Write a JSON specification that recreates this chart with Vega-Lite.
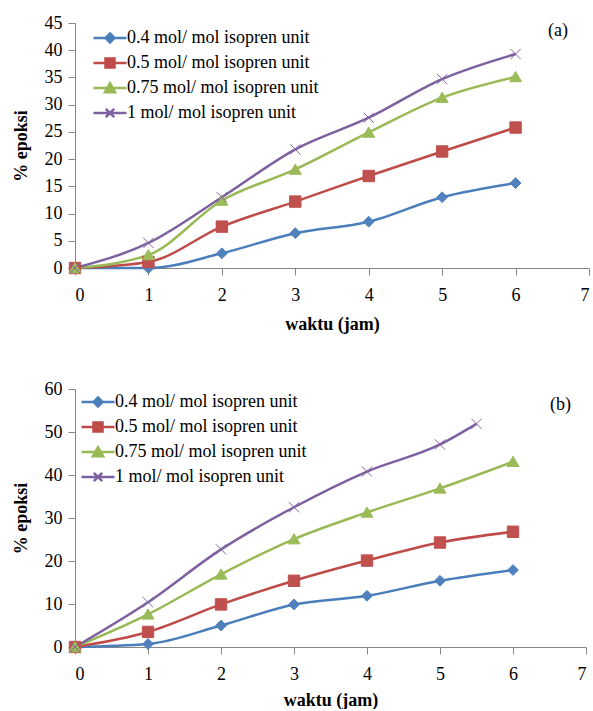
{
  "$schema": "https://vega.github.io/schema/vega-lite/v6.json",
  "background": "white",
  "padding": {"left": 12, "top": 14, "right": 0, "bottom": 0},
  "spacing": 47,
  "config": {
    "view": {"stroke": null},
    "font": "Liberation Serif",
    "axis": {
      "grid": false,
      "labelFont": "Liberation Serif",
      "labelFontSize": 18,
      "labelColor": "black",
      "titleFont": "Liberation Serif",
      "titleFontSize": 18,
      "titleFontWeight": "bold",
      "titleColor": "black",
      "domainColor": "#868686",
      "tickColor": "#868686",
      "domainWidth": 1,
      "tickSize": 7
    },
    "axisX": {"labelPadding": 11, "titlePadding": 11},
    "axisY": {"labelPadding": 6, "titlePadding": 14},
    "legend": {"labelFont": "Liberation Serif"},
    "title": {"font": "Liberation Serif"}
  },
  "datasets": {
    "a": [
      {"s": "0.4 mol/ mol isopren unit", "t": 0, "v": 0},
      {"s": "0.4 mol/ mol isopren unit", "t": 1, "v": 0},
      {"s": "0.4 mol/ mol isopren unit", "t": 2, "v": 2.7},
      {"s": "0.4 mol/ mol isopren unit", "t": 3, "v": 6.4},
      {"s": "0.4 mol/ mol isopren unit", "t": 4, "v": 8.5},
      {"s": "0.4 mol/ mol isopren unit", "t": 5, "v": 13.0},
      {"s": "0.4 mol/ mol isopren unit", "t": 6, "v": 15.6},
      {"s": "0.5 mol/ mol isopren unit", "t": 0, "v": 0},
      {"s": "0.5 mol/ mol isopren unit", "t": 1, "v": 1.1},
      {"s": "0.5 mol/ mol isopren unit", "t": 2, "v": 7.6},
      {"s": "0.5 mol/ mol isopren unit", "t": 3, "v": 12.2},
      {"s": "0.5 mol/ mol isopren unit", "t": 4, "v": 16.9},
      {"s": "0.5 mol/ mol isopren unit", "t": 5, "v": 21.4},
      {"s": "0.5 mol/ mol isopren unit", "t": 6, "v": 25.8},
      {"s": "0.75 mol/ mol isopren unit", "t": 0, "v": 0},
      {"s": "0.75 mol/ mol isopren unit", "t": 1, "v": 2.4},
      {"s": "0.75 mol/ mol isopren unit", "t": 2, "v": 12.4},
      {"s": "0.75 mol/ mol isopren unit", "t": 3, "v": 18.1},
      {"s": "0.75 mol/ mol isopren unit", "t": 4, "v": 24.9},
      {"s": "0.75 mol/ mol isopren unit", "t": 5, "v": 31.3},
      {"s": "0.75 mol/ mol isopren unit", "t": 6, "v": 35.1},
      {"s": "1 mol/ mol isopren unit", "t": 0, "v": 0},
      {"s": "1 mol/ mol isopren unit", "t": 1, "v": 4.6},
      {"s": "1 mol/ mol isopren unit", "t": 2, "v": 13.0},
      {"s": "1 mol/ mol isopren unit", "t": 3, "v": 21.8},
      {"s": "1 mol/ mol isopren unit", "t": 4, "v": 27.6},
      {"s": "1 mol/ mol isopren unit", "t": 5, "v": 34.7},
      {"s": "1 mol/ mol isopren unit", "t": 6, "v": 39.3}
    ],
    "b": [
      {"s": "0.4 mol/ mol isopren unit", "t": 0, "v": 0},
      {"s": "0.4 mol/ mol isopren unit", "t": 1, "v": 0.7},
      {"s": "0.4 mol/ mol isopren unit", "t": 2, "v": 5.0},
      {"s": "0.4 mol/ mol isopren unit", "t": 3, "v": 9.9},
      {"s": "0.4 mol/ mol isopren unit", "t": 4, "v": 11.9},
      {"s": "0.4 mol/ mol isopren unit", "t": 5, "v": 15.4},
      {"s": "0.4 mol/ mol isopren unit", "t": 6, "v": 17.9},
      {"s": "0.5 mol/ mol isopren unit", "t": 0, "v": 0},
      {"s": "0.5 mol/ mol isopren unit", "t": 1, "v": 3.5},
      {"s": "0.5 mol/ mol isopren unit", "t": 2, "v": 9.9},
      {"s": "0.5 mol/ mol isopren unit", "t": 3, "v": 15.4},
      {"s": "0.5 mol/ mol isopren unit", "t": 4, "v": 20.1},
      {"s": "0.5 mol/ mol isopren unit", "t": 5, "v": 24.3},
      {"s": "0.5 mol/ mol isopren unit", "t": 6, "v": 26.8},
      {"s": "0.75 mol/ mol isopren unit", "t": 0, "v": 0},
      {"s": "0.75 mol/ mol isopren unit", "t": 1, "v": 7.6},
      {"s": "0.75 mol/ mol isopren unit", "t": 2, "v": 16.9},
      {"s": "0.75 mol/ mol isopren unit", "t": 3, "v": 25.1},
      {"s": "0.75 mol/ mol isopren unit", "t": 4, "v": 31.3},
      {"s": "0.75 mol/ mol isopren unit", "t": 5, "v": 36.9},
      {"s": "0.75 mol/ mol isopren unit", "t": 6, "v": 43.1},
      {"s": "1 mol/ mol isopren unit", "t": 0, "v": 0},
      {"s": "1 mol/ mol isopren unit", "t": 1, "v": 10.4},
      {"s": "1 mol/ mol isopren unit", "t": 2, "v": 22.7},
      {"s": "1 mol/ mol isopren unit", "t": 3, "v": 32.5},
      {"s": "1 mol/ mol isopren unit", "t": 4, "v": 40.8},
      {"s": "1 mol/ mol isopren unit", "t": 5, "v": 47.1},
      {"s": "1 mol/ mol isopren unit", "t": 5.5, "v": 51.9}
    ]
  },
  "resolve": {
    "scale": {"x": "independent", "y": "independent", "color": "independent", "stroke": "independent", "shape": "independent"},
    "legend": {"color": "independent", "stroke": "independent", "shape": "independent"}
  },
  "vconcat": [
    {
      "width": 514,
      "height": 245,
      "title": {"text": "(a)", "orient": "top", "anchor": "end", "frame": "group", "offset": -35, "dx": -21, "baseline": "middle",
                "font": "Liberation Serif", "fontSize": 18, "fontWeight": "normal", "color": "black"},
      "data": {"name": "a"},
      "encoding": {
        "x": {"field": "t", "type": "quantitative", "scale": {"domain": [0, 7], "nice": false, "zero": false},
              "axis": {"title": "waktu (jam)", "values": [0, 1, 2, 3, 4, 5, 6, 7], "format": "d"}},
        "y": {"field": "v", "type": "quantitative", "scale": {"domain": [0, 45], "nice": false},
              "axis": {"title": "% epoksi", "values": [0, 5, 10, 15, 20, 25, 30, 35, 40, 45], "format": "d"}}
      },
      "resolve": {"scale": {"color": "independent", "stroke": "independent", "shape": "independent"}},
      "layer": [
        {
          "mark": {"type": "line", "interpolate": "monotone", "strokeWidth": 2.5},
          "encoding": {
            "color": {"field": "s", "type": "nominal", "legend": null,
                      "scale": {"domain": ["0.4 mol/ mol isopren unit", "0.5 mol/ mol isopren unit", "0.75 mol/ mol isopren unit", "1 mol/ mol isopren unit"],
                                "range": ["#4A7EBB", "#BE4B48", "#98B954", "#7D60A0"]}}
          }
        },
        {
          "mark": {"type": "point", "filled": true, "opacity": 1, "size": 144, "strokeWidth": 1},
          "encoding": {
            "color": {"field": "s", "type": "nominal", "legend": null,
                      "scale": {"domain": ["0.4 mol/ mol isopren unit", "0.5 mol/ mol isopren unit", "0.75 mol/ mol isopren unit", "1 mol/ mol isopren unit"],
                                "range": ["#4F81BD", "#C0504D", "#9BBB59", "#8064A2"]}},
            "stroke": {"field": "s", "type": "nominal", "legend": null,
                      "scale": {"domain": ["0.4 mol/ mol isopren unit", "0.5 mol/ mol isopren unit", "0.75 mol/ mol isopren unit", "1 mol/ mol isopren unit"],
                                "range": ["#4F81BD", "#C0504D", "#9BBB59", "#8064A2"]}},
            "shape": {"field": "s", "type": "nominal", "legend": null,
                      "scale": {"domain": ["0.4 mol/ mol isopren unit", "0.5 mol/ mol isopren unit", "0.75 mol/ mol isopren unit", "1 mol/ mol isopren unit"],
                                "range": ["M0,-0.9L0.9,0L0,0.9L-0.9,0Z", "M-0.95,-0.95H0.95V0.95H-0.95Z", "M0,-0.9L1,0.8L-1,0.8Z", "M-0.85,-0.85L0.85,0.85M-0.85,0.85L0.85,-0.85"]}}
          }
        },
        {
          "mark": {"type": "point", "filled": true, "opacity": 0, "size": 144, "strokeWidth": 2.5},
          "encoding": {
            "color": {"field": "s", "type": "nominal",
                      "scale": {"domain": ["0.4 mol/ mol isopren unit", "0.5 mol/ mol isopren unit", "0.75 mol/ mol isopren unit", "1 mol/ mol isopren unit"],
                                "range": ["#4A7EBB", "#BE4B48", "#98B954", "#7D60A0"]},
                      "legend": {"orient": "none", "legendX": 26, "legendY": 6, "title": null, "padding": 0,
                                 "labelFont": "Liberation Serif", "labelFontSize": 18, "labelColor": "black", "labelOffset": 8,
                                 "rowPadding": 5, "symbolSize": 144, "symbolStrokeWidth": 2.5, "symbolOpacity": 1,
                                 "labelLimit": 400}},
            "stroke": {"field": "s", "type": "nominal",
                      "scale": {"domain": ["0.4 mol/ mol isopren unit", "0.5 mol/ mol isopren unit", "0.75 mol/ mol isopren unit", "1 mol/ mol isopren unit"],
                                "range": ["#4A7EBB", "#BE4B48", "#98B954", "#7D60A0"]},
                      "legend": {"orient": "none", "legendX": 26, "legendY": 6, "title": null, "padding": 0,
                                 "labelFont": "Liberation Serif", "labelFontSize": 18, "labelColor": "black", "labelOffset": 8,
                                 "rowPadding": 5, "symbolSize": 144, "symbolStrokeWidth": 2.5, "symbolOpacity": 1,
                                 "labelLimit": 400}},
            "shape": {"field": "s", "type": "nominal",
                      "scale": {"domain": ["0.4 mol/ mol isopren unit", "0.5 mol/ mol isopren unit", "0.75 mol/ mol isopren unit", "1 mol/ mol isopren unit"],
                                "range": ["M-2.75,0H2.75M0,-0.75L0.75,0L0,0.75L-0.75,0Z", "M-2.75,0H2.75M-0.75,-0.75H0.75V0.75H-0.75Z", "M-2.75,0H2.75M0,-0.8L0.85,0.7L-0.85,0.7Z", "M-2.75,0H2.75M-0.7,-0.7L0.7,0.7M-0.7,0.7L0.7,-0.7"]},
                      "legend": {"orient": "none", "legendX": 26, "legendY": 6, "title": null, "padding": 0,
                                 "labelFont": "Liberation Serif", "labelFontSize": 18, "labelColor": "black", "labelOffset": 8,
                                 "rowPadding": 5, "symbolSize": 144, "symbolStrokeWidth": 2.5, "symbolOpacity": 1,
                                 "labelLimit": 400}}
          }
        }
      ]
    },
    {
      "width": 511,
      "height": 258,
      "title": {"text": "(b)", "orient": "top", "anchor": "end", "frame": "group", "offset": -43, "dx": -15, "baseline": "middle",
                "font": "Liberation Serif", "fontSize": 18, "fontWeight": "normal", "color": "black"},
      "data": {"name": "b"},
      "encoding": {
        "x": {"field": "t", "type": "quantitative", "scale": {"domain": [0, 7], "nice": false, "zero": false},
              "axis": {"title": "waktu (jam)", "values": [0, 1, 2, 3, 4, 5, 6, 7], "format": "d", "titlePadding": 8}},
        "y": {"field": "v", "type": "quantitative", "scale": {"domain": [0, 60], "nice": false},
              "axis": {"title": "% epoksi", "values": [0, 10, 20, 30, 40, 50, 60], "format": "d"}}
      },
      "resolve": {"scale": {"color": "independent", "stroke": "independent", "shape": "independent"}},
      "layer": [
        {
          "mark": {"type": "line", "interpolate": "monotone", "strokeWidth": 2.5},
          "encoding": {
            "color": {"field": "s", "type": "nominal", "legend": null,
                      "scale": {"domain": ["0.4 mol/ mol isopren unit", "0.5 mol/ mol isopren unit", "0.75 mol/ mol isopren unit", "1 mol/ mol isopren unit"],
                                "range": ["#4A7EBB", "#BE4B48", "#98B954", "#7D60A0"]}}
          }
        },
        {
          "mark": {"type": "point", "filled": true, "opacity": 1, "size": 144, "strokeWidth": 1},
          "encoding": {
            "color": {"field": "s", "type": "nominal", "legend": null,
                      "scale": {"domain": ["0.4 mol/ mol isopren unit", "0.5 mol/ mol isopren unit", "0.75 mol/ mol isopren unit", "1 mol/ mol isopren unit"],
                                "range": ["#4F81BD", "#C0504D", "#9BBB59", "#8064A2"]}},
            "stroke": {"field": "s", "type": "nominal", "legend": null,
                      "scale": {"domain": ["0.4 mol/ mol isopren unit", "0.5 mol/ mol isopren unit", "0.75 mol/ mol isopren unit", "1 mol/ mol isopren unit"],
                                "range": ["#4F81BD", "#C0504D", "#9BBB59", "#8064A2"]}},
            "shape": {"field": "s", "type": "nominal", "legend": null,
                      "scale": {"domain": ["0.4 mol/ mol isopren unit", "0.5 mol/ mol isopren unit", "0.75 mol/ mol isopren unit", "1 mol/ mol isopren unit"],
                                "range": ["M0,-0.9L0.9,0L0,0.9L-0.9,0Z", "M-0.95,-0.95H0.95V0.95H-0.95Z", "M0,-0.9L1,0.8L-1,0.8Z", "M-0.85,-0.85L0.85,0.85M-0.85,0.85L0.85,-0.85"]}}
          }
        },
        {
          "mark": {"type": "point", "filled": true, "opacity": 0, "size": 144, "strokeWidth": 2.5},
          "encoding": {
            "color": {"field": "s", "type": "nominal",
                      "scale": {"domain": ["0.4 mol/ mol isopren unit", "0.5 mol/ mol isopren unit", "0.75 mol/ mol isopren unit", "1 mol/ mol isopren unit"],
                                "range": ["#4A7EBB", "#BE4B48", "#98B954", "#7D60A0"]},
                      "legend": {"orient": "none", "legendX": 14, "legendY": 4, "title": null, "padding": 0,
                                 "labelFont": "Liberation Serif", "labelFontSize": 18, "labelColor": "black", "labelOffset": 8,
                                 "rowPadding": 5, "symbolSize": 144, "symbolStrokeWidth": 2.5, "symbolOpacity": 1,
                                 "labelLimit": 400}},
            "stroke": {"field": "s", "type": "nominal",
                      "scale": {"domain": ["0.4 mol/ mol isopren unit", "0.5 mol/ mol isopren unit", "0.75 mol/ mol isopren unit", "1 mol/ mol isopren unit"],
                                "range": ["#4A7EBB", "#BE4B48", "#98B954", "#7D60A0"]},
                      "legend": {"orient": "none", "legendX": 14, "legendY": 4, "title": null, "padding": 0,
                                 "labelFont": "Liberation Serif", "labelFontSize": 18, "labelColor": "black", "labelOffset": 8,
                                 "rowPadding": 5, "symbolSize": 144, "symbolStrokeWidth": 2.5, "symbolOpacity": 1,
                                 "labelLimit": 400}},
            "shape": {"field": "s", "type": "nominal",
                      "scale": {"domain": ["0.4 mol/ mol isopren unit", "0.5 mol/ mol isopren unit", "0.75 mol/ mol isopren unit", "1 mol/ mol isopren unit"],
                                "range": ["M-2.75,0H2.75M0,-0.75L0.75,0L0,0.75L-0.75,0Z", "M-2.75,0H2.75M-0.75,-0.75H0.75V0.75H-0.75Z", "M-2.75,0H2.75M0,-0.8L0.85,0.7L-0.85,0.7Z", "M-2.75,0H2.75M-0.7,-0.7L0.7,0.7M-0.7,0.7L0.7,-0.7"]},
                      "legend": {"orient": "none", "legendX": 14, "legendY": 4, "title": null, "padding": 0,
                                 "labelFont": "Liberation Serif", "labelFontSize": 18, "labelColor": "black", "labelOffset": 8,
                                 "rowPadding": 5, "symbolSize": 144, "symbolStrokeWidth": 2.5, "symbolOpacity": 1,
                                 "labelLimit": 400}}
          }
        }
      ]
    }
  ]
}
